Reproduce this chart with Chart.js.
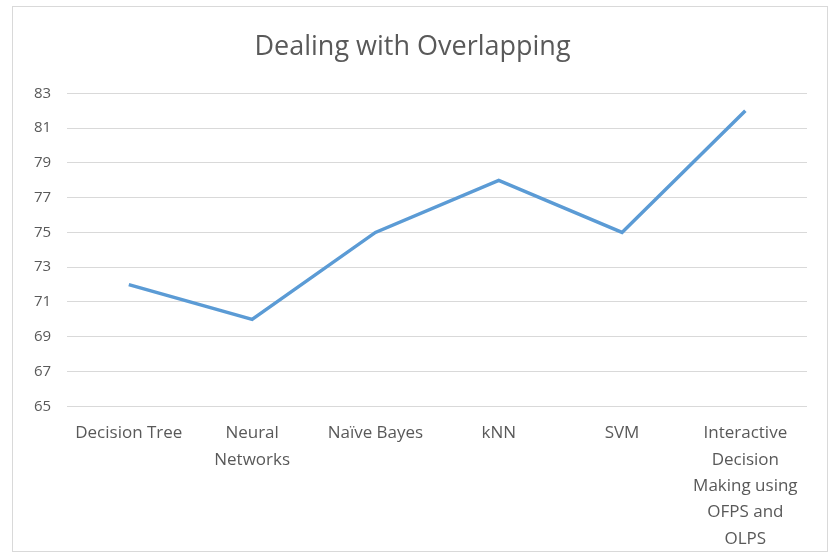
<!DOCTYPE html>
<html>
<head>
<meta charset="utf-8">
<script src="https://cdn.jsdelivr.net/npm/chart.js@4"></script>
<style>
  html, body { margin: 0; padding: 0; background: #fff; }
  #frame {
    position: absolute; left: 12px; top: 6px; width: 816px; height: 546px;
    border: 1px solid #d9d9d9; box-sizing: border-box;
  }
</style>
</head>
<body>
<div id="frame"><canvas id="chart"></canvas></div>
<script>
const categories = [
  "Decision Tree",
  ["Neural", "Networks"],
  "Naïve Bayes",
  "kNN",
  "SVM",
  ["Interactive", "Decision", "Making using", "OFPS and", "OLPS"]
];
const accuracy = [72, 70, 75, 78, 75, 82];
const yMin = 65;
const yMax = 83;
const yStep = 2;

const fontFamily = "'Open Sans', 'Liberation Sans', sans-serif";

new Chart(document.getElementById("chart"), {
  type: "line",
  data: {
    labels: categories,
    datasets: [{
      label: "Dealing with Overlapping",
      data: accuracy,
      borderColor: "#5b9bd5",
      backgroundColor: "#5b9bd5",
      borderWidth: 3.5,
      pointRadius: 0,
      tension: 0,
    }],
  },
  options: {
    responsive: true,
    maintainAspectRatio: false,
    animation: false,
    layout: { padding: { left: 5, right: 20, top: 14, bottom: -7 } },
    plugins: {
      legend: { display: false },
      tooltip: { enabled: false },
      title: {
        display: true,
        text: "Dealing with Overlapping",
        color: "#595959",
        font: { family: fontFamily, size: 27, weight: "normal" },
        padding: { top: 10, bottom: 30 },
      },
    },
    scales: {
      x: {
        offset: true,
        grid: { display: false },
        border: { display: false },
        ticks: {
          color: "#595959",
          font: { family: fontFamily, size: 17, lineHeight: 1.55 },
          maxRotation: 0,
          autoSkip: false,
          padding: 6,
        },
      },
      y: {
        min: yMin,
        max: yMax,
        grid: { color: "#d9d9d9", drawTicks: false, lineWidth: 1 },
        border: { display: false },
        ticks: {
          stepSize: yStep,
          color: "#595959",
          font: { family: fontFamily, size: 15 },
          padding: 16,
        },
      },
    },
  },
});
</script>
</body>
</html>
